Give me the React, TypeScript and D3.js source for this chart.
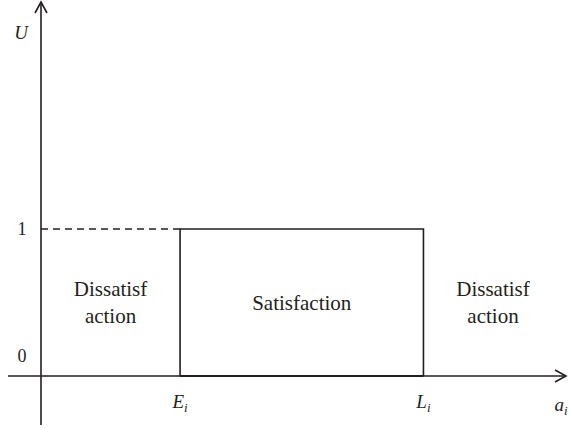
import React from "react";
import * as d3 from "d3";

// Utility step function: 1 inside [E_i, L_i], 0 outside
const bounds = [
  { key: "E", label: "E", sub: "i", value: 2 },
  { key: "L", label: "L", sub: "i", value: 5.5 },
];
const utilityLevels = [0, 1];
const regionLabels = [
  { lines: ["Dissatisf", "action"], x: 1, y: 0.5 },
  { lines: ["Satisfaction"], x: 3.75, y: 0.5 },
  { lines: ["Dissatisf", "action"], x: 6.5, y: 0.5 },
];

const W = 570;
const H = 428;
const ink = "#231f20";
const font = "Liberation Serif, Times New Roman, Times, serif";

export default function App() {
  const x = d3.scaleLinear().domain([0, 7.55]).range([41, 566]);
  const y = d3.scaleLinear().domain([0, 1]).range([376, 229]);

  const x0 = x(0);
  const y0 = y(0);
  const yTop = 2;
  const xLeft = 8;
  const xRight = x.range()[1];
  const yBottom = 425;

  const [E, L] = bounds.map((b) => b.value);
  const line = d3.line<[number, number]>();
  const textStyle = { fontFamily: font };

  return (
    <svg
      width={W}
      height={H}
      style={{ position: "absolute", left: 0, top: 0, background: "#fff" }}
    >
      {/* axes */}
      <line x1={x0} y1={yBottom} x2={x0} y2={yTop} stroke={ink} strokeWidth={1.6} />
      <line x1={xLeft} y1={y0} x2={xRight} y2={y0} stroke={ink} strokeWidth={1.6} />
      <path
        d={line([[x0 - 6, yTop + 11], [x0, yTop], [x0 + 6, yTop + 11]]) || ""}
        fill="none"
        stroke={ink}
        strokeWidth={1.6}
      />
      <path
        d={line([[xRight - 11, y0 - 6], [xRight, y0], [xRight - 11, y0 + 6]]) || ""}
        fill="none"
        stroke={ink}
        strokeWidth={1.6}
      />

      {/* dashed guide at U = 1 */}
      <line
        x1={x0}
        y1={y(1)}
        x2={x(E)}
        y2={y(1)}
        stroke={ink}
        strokeWidth={1.5}
        strokeDasharray="7,5"
      />

      {/* satisfaction window */}
      <path
        d={line([[x(E), y(0)], [x(E), y(1)], [x(L), y(1)], [x(L), y(0)]]) || ""}
        fill="none"
        stroke={ink}
        strokeWidth={1.6}
      />
      <line x1={x(E)} y1={y0} x2={x(L)} y2={y0} stroke={ink} strokeWidth={2} />

      {/* axis texts */}
      <text x={21} y={39} style={textStyle} fontStyle="italic" fontSize={19} fill={ink} textAnchor="middle">
        U
      </text>
      {utilityLevels.map((v) => (
        <text
          key={v}
          x={22}
          y={y(v) + (v === 0 ? -20 : 0) + 6}
          style={textStyle}
          fontSize={18}
          fill={ink}
          textAnchor="middle"
        >
          {v}
        </text>
      ))}
      {bounds.map((b) => (
        <text key={b.key} x={x(b.value)} y={408} style={textStyle} fontStyle="italic" fontSize={19} fill={ink} textAnchor="middle">
          {b.label}
          <tspan fontSize={13} dy={4}>{b.sub}</tspan>
        </text>
      ))}
      <text x={561} y={411} style={textStyle} fontStyle="italic" fontSize={19} fill={ink} textAnchor="middle">
        a
        <tspan fontSize={13} dy={4}>i</tspan>
      </text>

      {/* region labels */}
      {regionLabels.map((r, i) => (
        <text key={i} x={x(r.x)} style={textStyle} fontSize={21} fill={ink} textAnchor="middle">
          {r.lines.map((t, j) => (
            <tspan
              key={j}
              x={x(r.x)}
              y={y(r.y) + (j - (r.lines.length - 1) / 2) * 27 + 7}
            >
              {t}
            </tspan>
          ))}
        </text>
      ))}
    </svg>
  );
}
